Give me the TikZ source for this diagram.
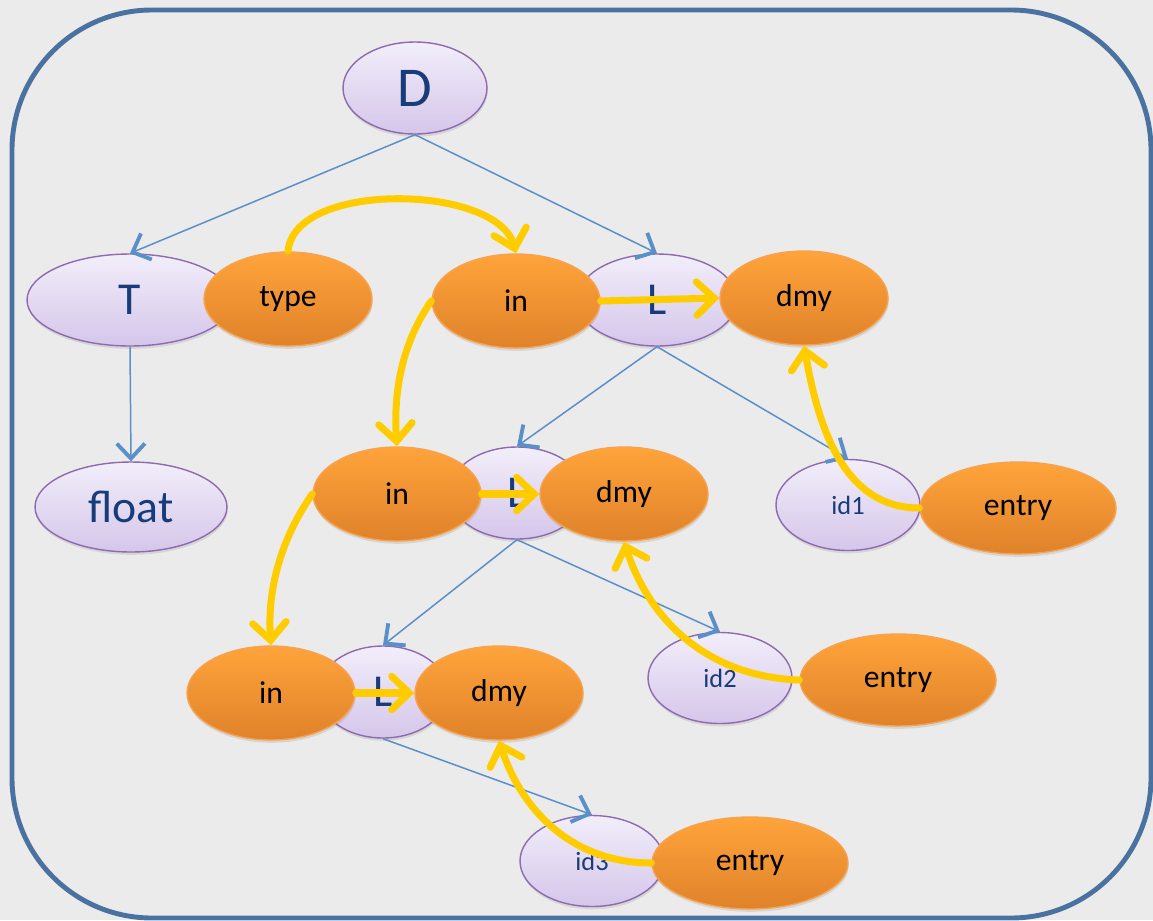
\documentclass[tikz,border=0pt]{standalone}
\usepackage{fontspec}
\setmainfont{Carlito}
\usetikzlibrary{shapes.geometric,arrows.meta,shadows}

\definecolor{bggray}{HTML}{EBEBEB}
\definecolor{frameblue}{HTML}{4A72A0}
\definecolor{edgeblue}{HTML}{5A8FC8}
\definecolor{lavtop}{HTML}{F2EEFA}
\definecolor{lavbot}{HTML}{D5C6EA}
\definecolor{lavline}{HTML}{8E6BB0}
\definecolor{ortop}{HTML}{FFA43B}
\definecolor{orbot}{HTML}{DF822A}
\definecolor{orline}{HTML}{F7A24E}
\definecolor{txtblue}{HTML}{173C79}
\definecolor{flowyellow}{HTML}{FFCC00}

\tikzset{
  lav/.style={ellipse, draw=lavline, line width=0.8pt, top color=lavtop, bottom color=lavbot,
    text=txtblue, inner sep=0pt, minimum height=1.84cm,
    drop shadow={opacity=0.2, shadow xshift=0.4pt, shadow yshift=-1.6pt}},
  attr/.style={ellipse, draw=orline, line width=0.8pt, top color=ortop, bottom color=orbot,
    text=black, inner sep=0pt, minimum width=3.36cm, minimum height=1.88cm,
    font=\fontsize{18}{20}\selectfont,
    drop shadow={opacity=0.2, shadow xshift=0.4pt, shadow yshift=-1.6pt}},
  big/.style={font=\fontsize{26}{30}\selectfont},
  small/.style={font=\fontsize{15}{18}\selectfont, minimum width=2.88cm, minimum height=1.82cm},
  tree/.style={draw=edgeblue, line width=0.85pt,
    -{Straight Barb[length=8.5pt, width=16pt, line width=2.2pt]}},
  flow/.style={draw=flowyellow, line width=4pt, line cap=round,
    -{Straight Barb[length=10pt, width=19pt, line cap=round]}},
}

\begin{document}
\begin{tikzpicture}[x=0.02cm, y=-0.02cm]
  % Background and frame
  \fill[bggray] (0,0) rectangle (1153,920);
  \useasboundingbox (0,0) rectangle (1153,920);
  \draw[frameblue, line width=2.8pt, rounded corners=2.8cm] (12,10) rectangle (1151,918);

  % Tree nodes
  \node[lav, minimum width=2.88cm, font=\fontsize{32}{36}\selectfont] (D) at (415,88) {D};
  \node[lav, big, minimum width=4.12cm] (T) at (130,300) {T};
  \node[lav, big, minimum width=3.84cm, minimum height=1.8cm] (float) at (131,507) {float};
  \node[lav, big, minimum width=3.2cm] (L1) at (657,300) {L};
  \node[lav, big, minimum width=2.72cm] (L2) at (517,493) {L};
  \node[lav, big, minimum width=2.6cm] (L3) at (383,692) {L};
  \node[lav, small] (id1) at (848,505) {id1};
  \node[lav, small] (id2) at (720,678) {id2};
  \node[lav, small] (id3) at (592,861) {id3};

  % Tree edges
  \draw[tree] (D.south) -- (T.north);
  \draw[tree] (D.south) -- (L1.north);
  \draw[tree] (T.south) -- (float.north);
  \draw[tree] (L1.south) -- (L2.north);
  \draw[tree] (L1.south) -- (id1.north);
  \draw[tree] (L2.south) -- (L3.north);
  \draw[tree] (L2.south) -- (id2.north);
  \draw[tree] (L3.south) -- (id3.north);

  % Attributes
  \node[attr] (type) at (288,299) {type};
  \node[attr] (in1) at (516,301) {in};
  \node[attr] (dmy1) at (804,298) {dmy};
  \node[attr] (in2) at (397,494) {in};
  \node[attr] (dmy2) at (624,494) {dmy};
  \node[attr] (in3) at (271,693) {in};
  \node[attr] (dmy3) at (499,693) {dmy};
  \node[attr, minimum width=3.92cm, minimum height=1.84cm] (entry1) at (1018,508) {entry};
  \node[attr, minimum width=3.92cm, minimum height=1.84cm] (entry2) at (898,680) {entry};
  \node[attr, minimum width=3.92cm, minimum height=1.84cm] (entry3) at (750,863) {entry};

  % Dependencies
  \draw[flow] (type.north) to[out=85, in=105, looseness=0.8] (in1.north);
  \draw[flow] (in1.west) to[out=235, in=94, looseness=0.9] (in2.north);
  \draw[flow] (in1.east) -- (dmy1.west);
  \draw[flow] (in2.west) to[out=235, in=94, looseness=0.9] (in3.north);
  \draw[flow] (in2.east) -- (dmy2.west);
  \draw[flow] (in3.east) -- (dmy3.west);
  \draw[flow] (entry1.west) to[out=180, in=-80] (dmy1.south);
  \draw[flow] (entry2.west) to[out=178, in=-72] (dmy2.south);
  \draw[flow] (entry3.west) to[out=180, in=-72] (dmy3.south);
\end{tikzpicture}
\end{document}
